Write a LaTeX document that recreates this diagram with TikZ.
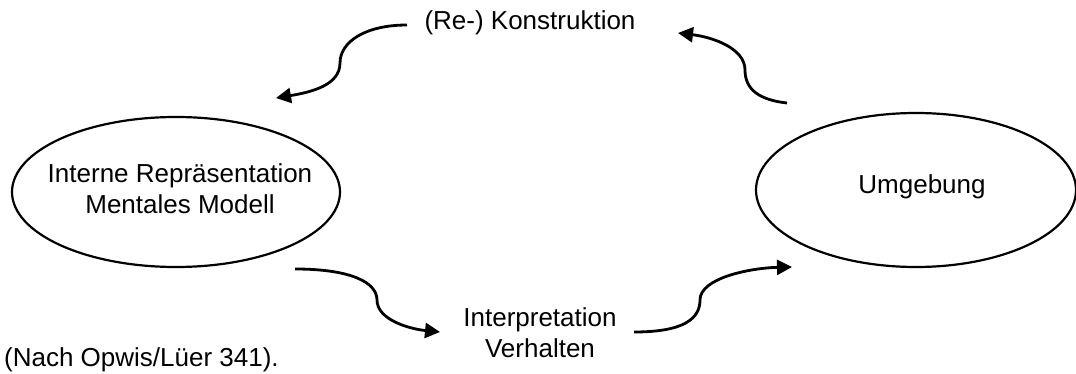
\documentclass[tikz,border=0pt]{standalone}
\usepackage{fontspec}
\setmainfont{Liberation Sans}
\usetikzlibrary{arrows.meta,shapes.geometric}
\begin{document}
\begin{tikzpicture}[x=1pt,y=-1pt,
  lbl/.style={font=\fontsize{26}{31}\selectfont, align=center, inner sep=0pt},
  oval/.style={draw, ellipse, line width=2.2pt, inner sep=0pt},
  flow/.style={line width=2.8pt, -{Triangle[length=15pt,width=15pt]}}]
  \useasboundingbox (0,0) rectangle (1076,374);

  % nodes
  \node[oval, minimum width=328pt, minimum height=150pt] (irep) at (176,192) {};
  \node[lbl] (irept) at (180,189) {Interne Repräsentation\\Mentales Modell};
  \node[oval, minimum width=320pt, minimum height=154pt] (umg) at (916,190) {};
  \node[lbl] (umgt) at (922,187) {Umgebung};
  \node[lbl] (kon) at (530,23) {(Re-) Konstruktion};
  \node[lbl] (interp) at (540,333) {Interpretation\\Verhalten};
  \node[lbl, anchor=west] (src) at (4,360) {(Nach Opwis/Lüer 341).};

  % connector ends
  \coordinate (konL) at (407,25);
  \coordinate (irepT) at (276,98);
  \coordinate (umgT) at (787,103);
  \coordinate (konR) at (678,33);
  \coordinate (irepB) at (295,269);
  \coordinate (interpL) at (440,332);
  \coordinate (interpR) at (634,332);
  \coordinate (umgB) at (792,267);
  \coordinate (m1) at (340,63);
  \coordinate (m2) at (745,70);
  \coordinate (m3) at (377,300);
  \coordinate (m4) at (700,300);

  % connectors
  \draw[flow] (konL) .. controls (365,25) and (340,42) .. (m1)
                     .. controls (340,85) and (312,92) .. (irepT);
  \draw[flow] (umgT) .. controls (760,100) and (745,90) .. (m2)
                     .. controls (745,48) and (712,37) .. (konR);
  \draw[flow] (irepB) .. controls (350,269) and (377,282) .. (m3)
                      .. controls (377,320) and (410,329) .. (interpL);
  \draw[flow] (interpR) .. controls (685,332) and (700,318) .. (m4)
                        .. controls (700,278) and (750,268) .. (umgB);
\end{tikzpicture}
\end{document}
